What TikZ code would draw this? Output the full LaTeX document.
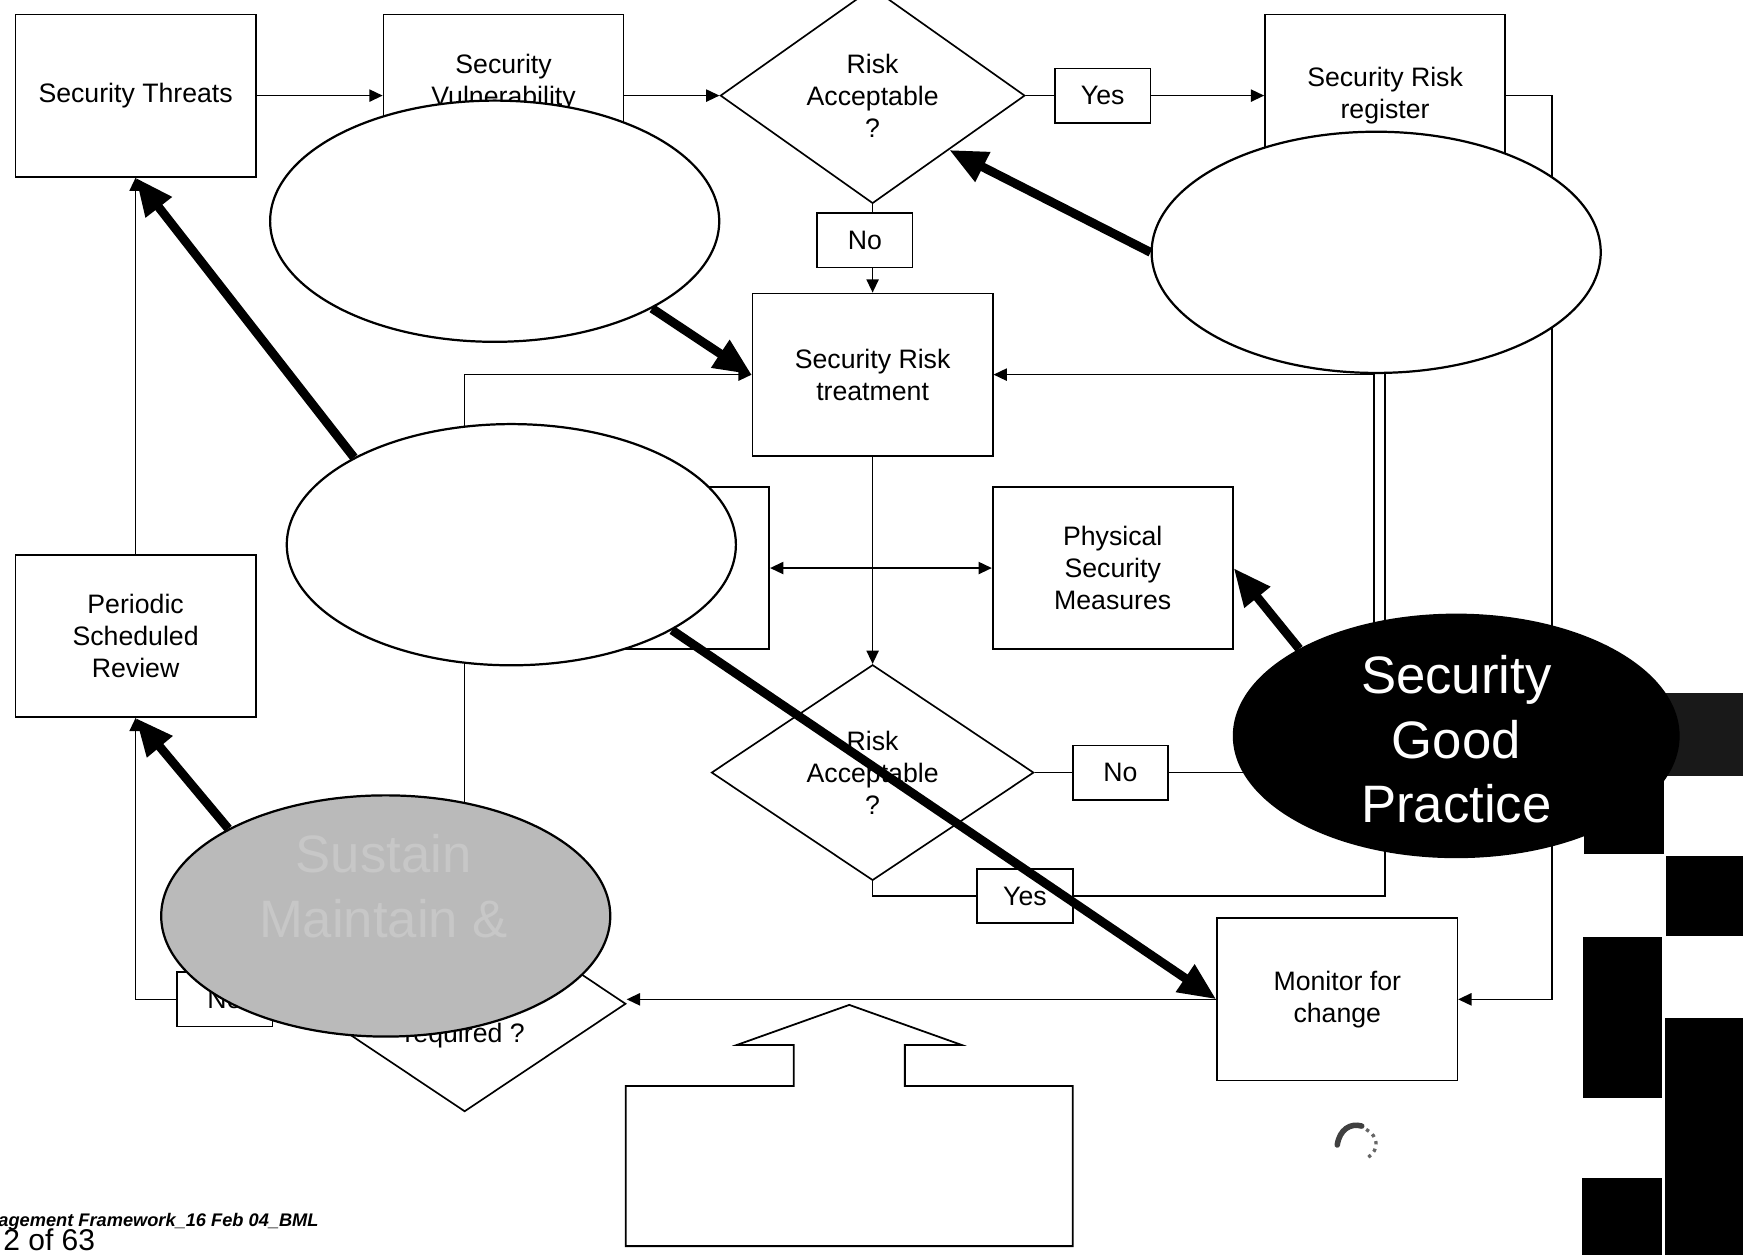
\documentclass[tikz,border=0pt]{standalone}
\usepackage{fontspec}
\setmainfont{Liberation Sans}
\usetikzlibrary{shapes.geometric,arrows.meta}
\newcommand\labtext{\fontsize{12}{14.5}\selectfont}
\newcommand\sgptext{\fontsize{23.7}{29}\selectfont}
\begin{document}
\begin{tikzpicture}[x=0.5pt,y=-0.5pt,
  box/.style={draw, line width=0.75pt, rectangle, minimum width=108pt, minimum height=73pt, inner sep=0pt, align=center, font=\labtext},
  lbl/.style={draw, line width=0.75pt, rectangle, minimum width=43pt, minimum height=24.5pt, inner sep=0pt, font=\labtext},
  dia/.style={draw, line width=0.75pt, diamond, shape aspect=1.4, inner sep=0pt, align=center, font=\labtext, minimum width=145pt, minimum height=97pt},
  flow/.style={line width=0.75pt, -{Triangle[length=6pt,width=5.5pt]}},
  wire/.style={line width=0.75pt},
  both/.style={line width=0.75pt, {Triangle[length=6pt,width=5.5pt]}-{Triangle[length=6pt,width=5.5pt]}},
  big/.style={line width=4pt, -{Triangle[length=17pt,width=14pt]}},
  oval/.style={draw, line width=1pt, ellipse, inner sep=0pt, fill=white, minimum width=202pt, minimum height=108.5pt},
  blk/.style={fill=black}
]
\fill[white] (0,0) rectangle (1568,1129);
\useasboundingbox (0,0) rectangle (1568,1129);

% scan artefacts at the right edge
\fill[black!90] (1440,623) rectangle (1568,698);
\fill[blk] (1425,694) rectangle (1497,768);
\fill[blk] (1499,770) rectangle (1568,842);
\fill[blk] (1424,843) rectangle (1495,988);
\fill[blk] (1498,916) rectangle (1568,1129);
\fill[blk] (1423,1060) rectangle (1495,1129);

% boxes
\node[box] (ST) at (122,86) {Security Threats};
\node[box] (SV) at (453,86) {Security\\Vulnerability\\~};
\node[dia, minimum width=137pt] (D1) at (785,86) {Risk\\Acceptable\\?};
\node[lbl] (Y1) at (992,86) {Yes};
\node[box] (SRR) at (1246,86) {Security Risk\\register};
\node[lbl] (N1) at (778,216) {No};
\node[box] (SRT) at (785,337) {Security Risk\\treatment};
\node[box] (MID) at (584,511) {};
\node[box] (PSM) at (1001,511) {Physical\\Security\\Measures};
\node[box] (PSR) at (122,572) {Periodic\\Scheduled\\Review};
\node[dia] (D2) at (785,695) {Risk\\Acceptable\\?};
\node[lbl] (N2) at (1008,695) {No};
\node[lbl] (Y2) at (922,806) {Yes};
\node[box] (MFC) at (1203,899) {Monitor for\\change};
\node[dia] (D3) at (418,903) {\vphantom{R}\\\vphantom{R}\\required ?};
\node[lbl] (N3) at (202,899) {No};

\coordinate (nx) at (1236,0);
\coordinate (rx) at (1396,0);

% connectors
\draw[flow] (ST) -- (SV);
\draw[flow] (SV) -- (D1);
\draw[wire] (D1) -- (Y1);
\draw[flow] (Y1) -- (SRR);
\draw[wire] (D1.south) -- (D1.south |- N1.north);
\draw[flow] (D1.south |- N1.south) -- (SRT.north);
\draw[flow] (SRT) -- (D2);
\draw[both] (MID) -- (PSM);
\draw[wire] (D2) -- (N2);
\draw[flow] (N2.east) -- (N2.east -| nx) |- (SRT.east);
\draw[wire] (D2.south) |- (Y2.west);
\draw[flow] (Y2.east) -| (SRR.south);
\draw[flow] (SRR.east) -- (SRR.east -| rx) |- (MFC.east);
\draw[flow] (MFC.west) -- (D3.east |- MFC.west);
\draw[flow] (D3.north) |- (SRT.west);
\draw[wire] (D3.west |- N3.east) -- (N3.east);
\draw[flow] (N3.west) -| (PSR.south);
\draw[flow] (PSR) -- (ST);

% block arrow
\draw[line width=0.8pt, fill=white] (563,1121) -- (563,977) -- (714,977) -- (714,940) -- (663,940) -- (764,904) -- (865,940) -- (814,940) -- (814,977) -- (965,977) -- (965,1121) -- cycle;

% scribble
\draw[line width=2.5pt, black!75, line cap=round] (1203,1030) .. controls (1205,1016) and (1215,1010) .. (1225,1013);
\draw[line width=1.5pt, black!60, dotted] (1229,1016) .. controls (1240,1022) and (1241,1034) .. (1231,1041);

% ellipses
\node[oval] (E1) at (445,199) {};
\node[oval] (E2) at (1238,227) {};
\node[oval] (E3) at (460,490) {};
\node[oval, fill=black!27] (E4) at (347,824) {};
\node[text=black!22, font=\sgptext, align=center] (E4t) at (345,797) {Sustain\\Maintain \&};
\node[oval, fill=black, minimum width=200pt, minimum height=109pt] (E5) at (1310,662) {};
\node[text=white, font=\sgptext, align=center] (E5t) at (1310,665) {Security\\Good\\Practice};

% thick arrows
\draw[big] (E3.151) -- (ST.south);
\draw[big] (E1.-29) -- (SRT.west);
\draw[big] (E2.west) -- (D1.south east);
\draw[big] (E5.151) -- (PSM.east);
\draw[big] (E3.-28) -- (MFC.west);
\draw[big] (E4.151) -- (PSR.south);

% footer
\node[font=\fontsize{8.2}{9.6}\selectfont\bfseries\itshape, anchor=base east, inner sep=0pt] (ft) at (287,1103) {agement Framework\_16 Feb 04\_BML};
\node[font=\fontsize{13.5}{16}\selectfont, anchor=base east, inner sep=0pt] (pg) at (86,1125) {2 of 63};
\end{tikzpicture}
\end{document}
